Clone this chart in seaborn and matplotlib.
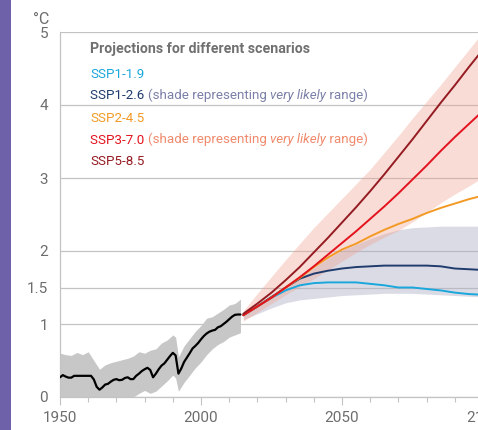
import matplotlib
matplotlib.use("Agg")
import matplotlib.pyplot as plt
import seaborn as sns
import pandas as pd
from matplotlib.patches import Rectangle
from matplotlib.ticker import MultipleLocator

# ---------------- data ----------------
hist_years = list(range(1950, 2015))
hist_temp = [0.27, 0.30, 0.28, 0.265, 0.265, 0.29, 0.29, 0.29, 0.29, 0.29,
             0.29, 0.29, 0.24, 0.14, 0.10, 0.13, 0.17, 0.18, 0.21, 0.235,
             0.245, 0.23, 0.235, 0.26, 0.27, 0.245, 0.245, 0.29, 0.32, 0.355,
             0.38, 0.40, 0.37, 0.27, 0.32, 0.38, 0.43, 0.46, 0.51, 0.56,
             0.605, 0.57, 0.32, 0.39, 0.48, 0.54, 0.60, 0.665, 0.70, 0.74,
             0.79, 0.835, 0.87, 0.895, 0.91, 0.92, 0.955, 0.97, 1.00, 1.03,
             1.065, 1.10, 1.125, 1.13, 1.13]

hist_band_years = [1950, 1952, 1954, 1956, 1958, 1960, 1962, 1964, 1966, 1968,
                   1970, 1972, 1974, 1976, 1978, 1980, 1982, 1984, 1986, 1988,
                   1990, 1991, 1992, 1994, 1996, 1998, 2000, 2002, 2004, 2006,
                   2008, 2010, 2012, 2014]
hist_band_high = [0.60, 0.58, 0.57, 0.61, 0.58, 0.62, 0.50, 0.38, 0.44, 0.47,
                  0.49, 0.51, 0.53, 0.56, 0.62, 0.60, 0.64, 0.66, 0.74, 0.78,
                  0.85, 0.82, 0.55, 0.70, 0.80, 0.90, 0.98, 1.08, 1.10, 1.15,
                  1.20, 1.26, 1.28, 1.34]
hist_band_low = [-0.05, -0.05, -0.05, -0.05, -0.05, -0.05, -0.10, -0.15, -0.12, -0.10,
                 -0.08, -0.06, -0.03, 0.00, 0.05, 0.09, 0.05, 0.08, 0.15, 0.22,
                 0.30, 0.26, 0.08, 0.20, 0.30, 0.40, 0.48, 0.58, 0.66, 0.72,
                 0.76, 0.82, 0.85, 0.88]

proj_years = list(range(2015, 2101, 5))
ssp119 = [1.12, 1.24, 1.36, 1.46, 1.53, 1.56, 1.57, 1.57, 1.57, 1.55,
          1.53, 1.50, 1.50, 1.48, 1.46, 1.43, 1.41, 1.40]
ssp126 = [1.12, 1.24, 1.37, 1.50, 1.62, 1.69, 1.73, 1.76, 1.78, 1.79,
          1.80, 1.80, 1.80, 1.80, 1.79, 1.76, 1.75, 1.74]
ssp245 = [1.12, 1.24, 1.36, 1.50, 1.63, 1.78, 1.91, 2.02, 2.10, 2.20,
          2.29, 2.37, 2.44, 2.52, 2.59, 2.65, 2.71, 2.76]
ssp370 = [1.12, 1.24, 1.36, 1.50, 1.64, 1.79, 1.95, 2.11, 2.27, 2.44,
          2.61, 2.79, 2.98, 3.17, 3.37, 3.56, 3.74, 3.92]
ssp585 = [1.14, 1.28, 1.43, 1.60, 1.78, 1.98, 2.18, 2.39, 2.60, 2.82,
          3.05, 3.29, 3.53, 3.78, 4.03, 4.27, 4.52, 4.76]

ssp126_low = [1.06, 1.14, 1.22, 1.29, 1.33, 1.35, 1.37, 1.39, 1.40, 1.41,
              1.42, 1.42, 1.42, 1.41, 1.40, 1.39, 1.38, 1.37]
ssp126_high = [1.15, 1.28, 1.40, 1.51, 1.63, 1.77, 1.90, 2.01, 2.09, 2.17,
               2.24, 2.29, 2.32, 2.33, 2.34, 2.34, 2.34, 2.34]
ssp370_low = [1.04, 1.16, 1.28, 1.40, 1.51, 1.62, 1.74, 1.86, 1.98, 2.09,
              2.19, 2.28, 2.40, 2.53, 2.66, 2.78, 2.89, 3.01]
ssp370_high = [1.18, 1.42, 1.65, 1.88, 2.10, 2.32, 2.52, 2.72, 2.92, 3.12,
               3.35, 3.58, 3.82, 4.05, 4.28, 4.52, 4.76, 5.00]

scenario_names = ["SSP1-1.9", "SSP1-2.6", "SSP2-4.5", "SSP3-7.0", "SSP5-8.5"]
y_ticks = [0, 1, 1.5, 2, 3, 4, 5]
y_tick_labels = ["0", "1", "1.5", "2", "3", "4", "5"]
x_ticks = [1950, 2000, 2050, 2100]
x_tick_labels = ["1950", "2000", "2050", "2100"]
legend_title = "Projections for different scenarios"
shade_note = ["(shade representing ", "very likely", " range)"]
unit_label = "°C"

# ---------------- style ----------------
sns.set_theme(style="white")
plt.rcParams['font.family'] = ['Roboto', 'DejaVu Sans']

colors = {
    "SSP1-1.9": "#1aa7dc",
    "SSP1-2.6": "#1f3c6d",
    "SSP2-4.5": "#f39a26",
    "SSP3-7.0": "#e3121e",
    "SSP5-8.5": "#951b22",
}
GRAY_TXT = "#6d6d6d"
AX_GRAY = "#c3c3c3"

fig = plt.figure(figsize=(4.78, 4.30), dpi=100)
fig.patches.append(Rectangle((0, 0), 11 / 478, 1, transform=fig.transFigure,
                             facecolor="#6e61a9", edgecolor="none", zorder=0))
ax = fig.add_axes([60 / 478, 33 / 430, 423 / 478, 365 / 430])

# bands
ax.fill_between(proj_years, ssp126_low, ssp126_high, color="#b1b1c9",
                alpha=0.45, lw=0, zorder=1)
ax.fill_between(proj_years, ssp370_low, ssp370_high, color="#f0a08c",
                alpha=0.36, lw=0, zorder=1.1)
ax.fill_between(hist_band_years, hist_band_low, hist_band_high, color="#c7c7c7",
                lw=0, zorder=1.2)

# lines
hist_df = pd.DataFrame({"year": hist_years, "temp": hist_temp})
sns.lineplot(data=hist_df, x="year", y="temp", color="black", lw=1.6,
             ax=ax, zorder=3)
proj_df = pd.DataFrame({"year": proj_years, "SSP1-1.9": ssp119, "SSP1-2.6": ssp126,
                        "SSP2-4.5": ssp245, "SSP3-7.0": ssp370, "SSP5-8.5": ssp585})
for name in scenario_names:
    sns.lineplot(data=proj_df, x="year", y=name, color=colors[name], lw=1.4,
                 ax=ax, zorder=3)

# axes
ax.set_xlim(1950, 2100)
ax.set_ylim(0, 5)
ax.set_xlabel("")
ax.set_ylabel("")
ax.set_yticks(y_ticks)
ax.set_yticklabels(y_tick_labels)
ax.set_xticks(x_ticks)
ax.set_xticklabels(x_tick_labels)
ax.xaxis.set_minor_locator(MultipleLocator(10))
ax.set_axisbelow(True)
ax.yaxis.grid(True, color=AX_GRAY, lw=0.9)
ax.xaxis.grid(False)
for s in ["top", "right"]:
    ax.spines[s].set_visible(False)
for s in ["left", "bottom"]:
    ax.spines[s].set_color(AX_GRAY)
    ax.spines[s].set_linewidth(0.9)
ax.tick_params(axis="y", length=0, pad=8.5, labelsize=11, labelcolor=GRAY_TXT)
ax.tick_params(axis="x", which="major", length=6, width=0.8, color=AX_GRAY,
               direction="out", pad=4, labelsize=11, labelcolor=GRAY_TXT, bottom=True)
ax.tick_params(axis="x", which="minor", length=3.5, width=0.8, color=AX_GRAY,
               direction="out", bottom=True)
ax.set_facecolor("none")

fig.text(41 / 478, 1 - 19 / 430, unit_label, color=GRAY_TXT, fontsize=11.5,
         ha="center", va="center")

# legend block
renderer = fig.canvas.get_renderer()


def chain(x_px, base_px, segments, size=9.6):
    x = x_px / 478
    y = 1 - base_px / 430
    for text, color, style, weight in segments:
        t = fig.text(x, y, text, color=color, fontsize=size, style=style,
                     fontweight=weight, ha="left", va="baseline")
        bb = t.get_window_extent(renderer=renderer)
        x = bb.x1 / fig.bbox.width


chain(90, 53.5, [(legend_title, "#707070", "normal", "bold")], size=10.2)
blue_note = "#7b80a8"
salmon_note = "#f08a6c"
rows = [
    (78.3, [(scenario_names[0], colors["SSP1-1.9"], "normal", "normal")]),
    (99.3, [(scenario_names[1] + " ", colors["SSP1-2.6"], "normal", "normal"),
            (shade_note[0], blue_note, "normal", "normal"),
            (shade_note[1], blue_note, "italic", "normal"),
            (shade_note[2], blue_note, "normal", "normal")]),
    (122.3, [(scenario_names[2], colors["SSP2-4.5"], "normal", "normal")]),
    (143.5, [(scenario_names[3] + " ", colors["SSP3-7.0"], "normal", "normal"),
             (shade_note[0], salmon_note, "normal", "normal"),
             (shade_note[1], salmon_note, "italic", "normal"),
             (shade_note[2], salmon_note, "normal", "normal")]),
    (165.0, [(scenario_names[4], colors["SSP5-8.5"], "normal", "normal")]),
]
for base, segs in rows:
    chain(90, base, segs)

fig.savefig("out.png", dpi=100)
